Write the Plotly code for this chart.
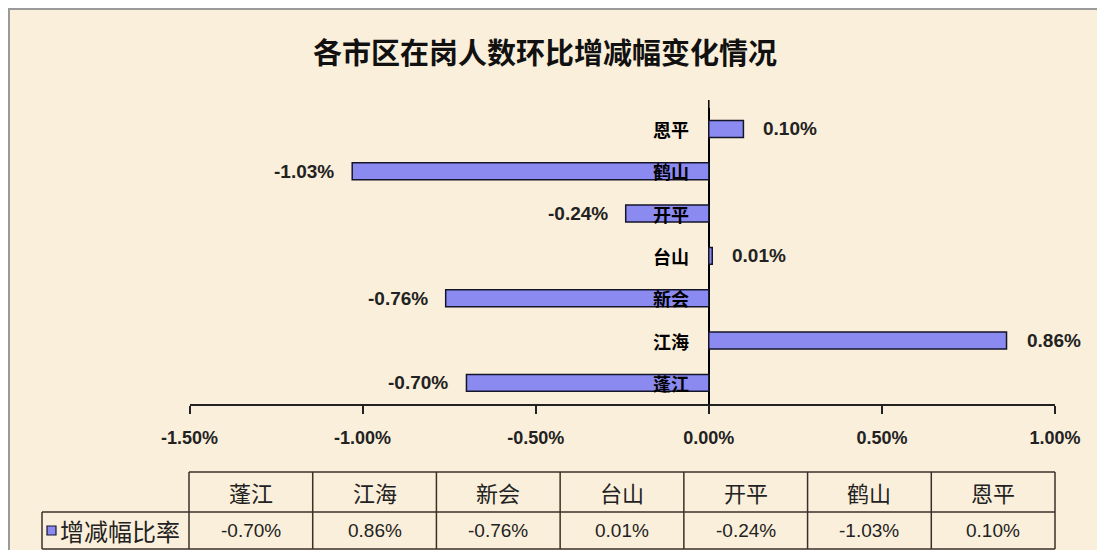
import plotly.graph_objects as go

# ---- data ----
categories = ["蓬江", "江海", "新会", "台山", "开平", "鹤山", "恩平"]
values = [-0.70, 0.86, -0.76, 0.01, -0.24, -1.03, 0.10]  # percent
series_name = "增减幅比率"
title_text = "各市区在岗人数环比增减幅变化情况"
x_ticks = [-1.5, -1.0, -0.5, 0.0, 0.5, 1.0]

OFF = 8  # page body margin
W, H = 1105 - 2 * OFF, 558 - 2 * OFF
def X(px): return (px - OFF) / W
def Y(py): return 1 - (py - OFF) / H

BG = "#FAEFDA"
BAR = "#8A8AF0"
LINE = "#3a3028"
NUM_FONT = "Arial, Liberation Sans, sans-serif"
CJK_FONT = "Noto Sans CJK SC, sans-serif"

fig = go.Figure()
fig.add_trace(go.Bar(
    y=categories, x=values, orientation="h", width=0.4,
    marker=dict(color=BAR, line=dict(color="#15152a", width=1.5)),
    name=series_name, showlegend=False, hoverinfo="x+y",
))

annotations = []
for c in categories:
    annotations.append(dict(x=0, y=c, xref="x", yref="y", text=c, showarrow=False,
                            xanchor="right", xshift=-18,
                            font=dict(family=CJK_FONT, size=18, color="#000", weight="bold")))
for c, v in zip(categories, values):
    annotations.append(dict(x=v, y=c, xref="x", yref="y", text=f"{v:.2f}%", showarrow=False,
                            xanchor="left" if v >= 0 else "right", xshift=18 if v >= 0 else -16,
                            font=dict(family=NUM_FONT, size=19, color="#222", weight="bold")))

annotations.append(dict(x=X(545), y=Y(51), xref="paper", yref="paper", text=title_text,
                        showarrow=False, xanchor="center", yanchor="middle",
                        font=dict(family=CJK_FONT, size=29, color="#111", weight="bold")))

shapes = []
shapes.append(dict(type="rect", xref="paper", yref="paper", x0=X(9), x1=X(1125), y0=Y(9), y1=Y(590),
                   line=dict(color="#9a9a9a", width=2), fillcolor=BG, layer="below"))

tl, tr = 189, 1055
row_top, row_mid, row_bot = 472, 512, 549
leg_left = 42
n = len(categories)
colw = (tr - tl) / n
lc = dict(color=LINE, width=1.5)
def hline(x0, x1, y):
    shapes.append(dict(type="line", xref="paper", yref="paper", x0=X(x0), x1=X(x1), y0=Y(y), y1=Y(y), line=lc))
def vline(x, y0, y1):
    shapes.append(dict(type="line", xref="paper", yref="paper", x0=X(x), x1=X(x), y0=Y(y0), y1=Y(y1), line=lc))
hline(tl, tr, row_top)
hline(leg_left, tr, row_mid)
hline(leg_left, tr, row_bot)
vline(leg_left, row_mid, row_bot)
for i in range(n + 1):
    vline(tl + i * colw, row_top, row_bot)
row2_c = (row_mid + row_bot) / 2
shapes.append(dict(type="rect", xref="paper", yref="paper", x0=X(47), x1=X(56), y0=Y(row2_c + 4.5), y1=Y(row2_c - 4.5),
                   fillcolor=BAR, line=dict(color="#15152a", width=1.2)))
# upward extension of the value axis above the plot area
shapes.append(dict(type="line", xref="x", yref="paper", x0=0, x1=0, y0=Y(108), y1=Y(100),
                   line=dict(color="#000", width=1.5)))

for i, (c, v) in enumerate(zip(categories, values)):
    cx = tl + (i + 0.5) * colw
    annotations.append(dict(x=X(cx), y=Y((row_top + row_mid) / 2), xref="paper", yref="paper", text=c,
                            showarrow=False, xanchor="center", yanchor="middle",
                            font=dict(family=CJK_FONT, size=22, color="#222")))
    annotations.append(dict(x=X(cx), y=Y(row2_c), xref="paper", yref="paper", text=f"{v:.2f}%",
                            showarrow=False, xanchor="center", yanchor="middle",
                            font=dict(family=NUM_FONT, size=19, color="#222")))
annotations.append(dict(x=X(58), y=Y(row2_c), xref="paper", yref="paper", text=series_name,
                        showarrow=False, xanchor="left", yanchor="middle",
                        font=dict(family=CJK_FONT, size=24, color="#222")))

fig.update_layout(
    width=W, height=H, autosize=False,
    margin=dict(l=0, r=0, t=0, b=0, pad=0, autoexpand=False),
    paper_bgcolor="white", plot_bgcolor="rgba(0,0,0,0)",
    annotations=annotations, shapes=shapes,
    xaxis=dict(domain=[X(189.5), X(1055)], range=[-1.5, 1.0], tickvals=x_ticks,
               ticktext=[f"{t:.2f}%" for t in x_ticks], automargin=False,
               showgrid=False, zeroline=True, zerolinecolor="#000", zerolinewidth=1.5,
               showline=True, linecolor="#222", linewidth=1.5,
               ticks="outside", ticklen=8, tickcolor="#222", tickwidth=1.5,
               ticklabelstandoff=9,
               tickfont=dict(family=NUM_FONT, size=18, color="#222", weight="bold"),
               fixedrange=True),
    yaxis=dict(domain=[Y(404), Y(107.8)], range=[-0.5, 6.5], showticklabels=False, automargin=False,
               showgrid=False, zeroline=False, showline=False, ticks="", fixedrange=True),
    showlegend=False,
)

fig.write_html("out.html")
